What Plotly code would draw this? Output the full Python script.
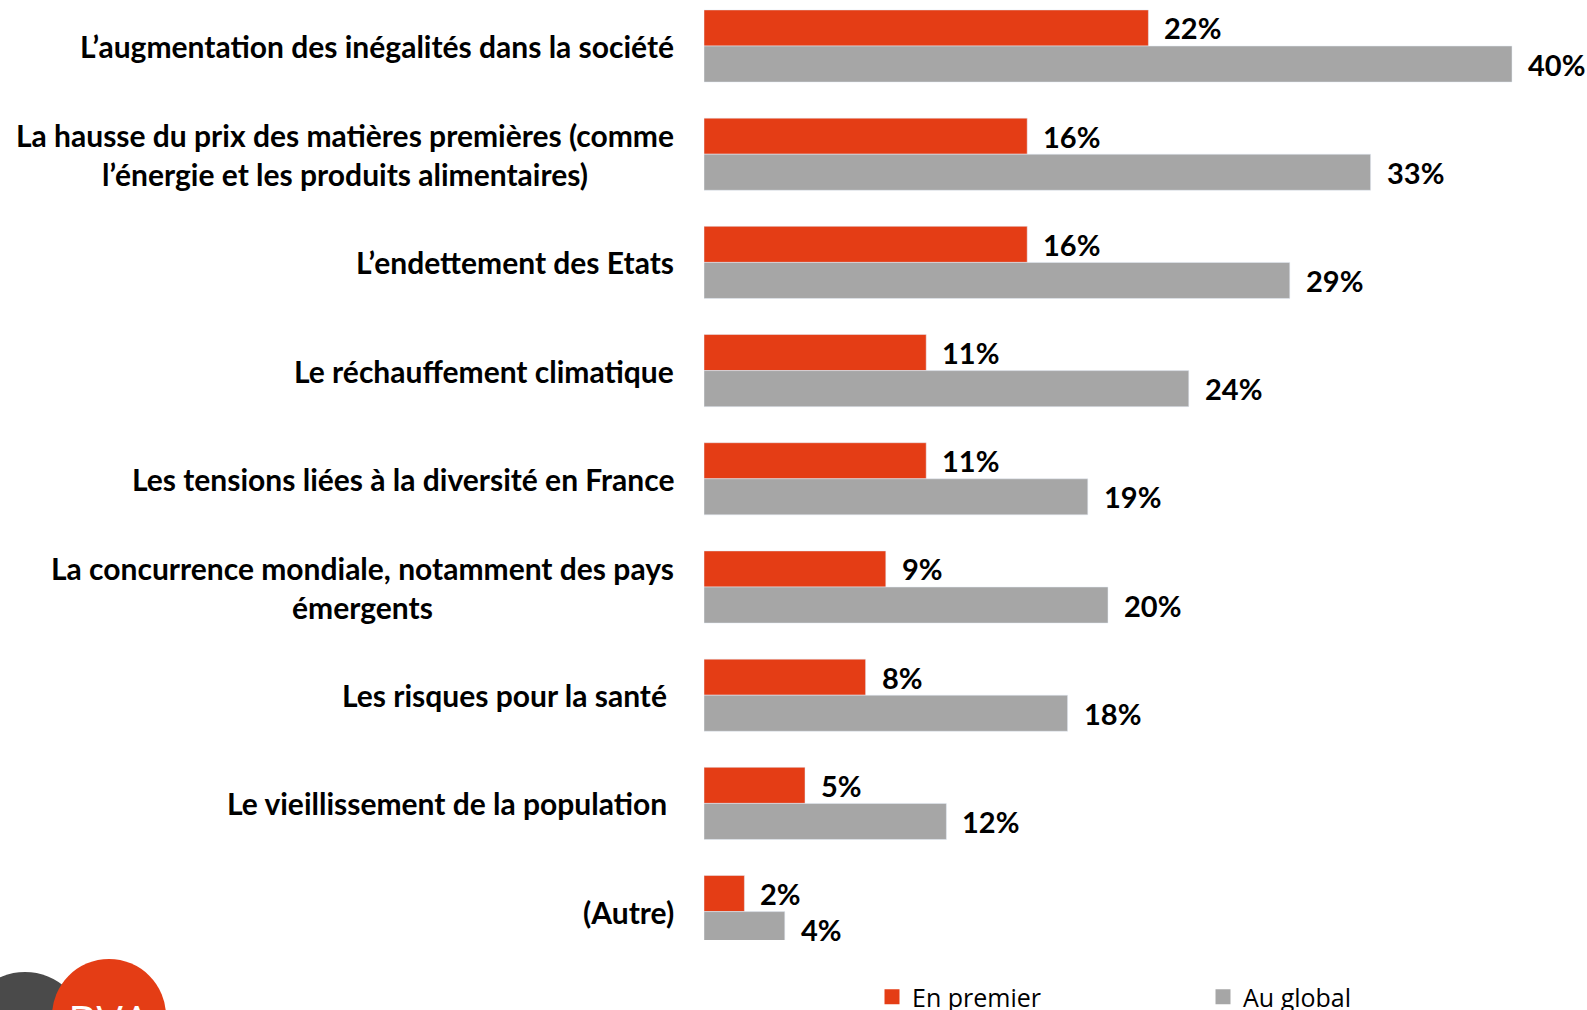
import plotly.graph_objects as go

# data
categories = [
    "L’augmentation des inégalités dans la société",
    "La hausse du prix des matières premières (comme<br>l’énergie et les produits alimentaires)",
    "L’endettement des Etats",
    "Le réchauffement climatique",
    "Les tensions liées à la diversité en France",
    "La concurrence mondiale, notamment des pays<br>émergents",
    "Les risques pour la santé ",
    "Le vieillissement de la population ",
    "(Autre)",
]
series_names = ["En premier", "Au global"]
en_premier = [22, 16, 16, 11, 11, 9, 8, 5, 2]
au_global = [40, 33, 29, 24, 19, 20, 18, 12, 4]

RED = "#E43D15"
GREY = "#A6A6A6"
FONT = "Lato"

W, H = 1587, 1010
L, T, B = 704, 0, 70

fig = go.Figure()
for name, vals, col in zip(series_names, [en_premier, au_global], [RED, GREY]):
    fig.add_trace(go.Bar(y=categories, x=vals, orientation="h", name=name,
                         marker=dict(color=col), hoverinfo="x+name", showlegend=False))
    # legend-only entry with a bigger square swatch
    fig.add_trace(go.Scatter(x=[None], y=[None], mode="markers", name=name,
                             marker=dict(symbol="square", size=15, color=col)))

annotations = []
# category labels, centred lines, right anchored
for i, c in enumerate(categories):
    annotations.append(dict(x=0, xref="paper", y=i, yref="y", text=f"<b>{c}</b>",
                            xanchor="right", yanchor="middle", align="center",
                            xshift=-28, showarrow=False,
                            font=dict(family=FONT, size=30, color="#000")))
# value labels
for i, (a, b) in enumerate(zip(en_premier, au_global)):
    annotations.append(dict(x=a, y=i - 1 / 6, text=f"<b>{a}%</b>", xanchor="left",
                            xshift=14, showarrow=False,
                            font=dict(family=FONT, size=29, color="#000")))
    annotations.append(dict(x=b, y=i + 1 / 6, text=f"<b>{b}%</b>", xanchor="left",
                            xshift=14, showarrow=False,
                            font=dict(family=FONT, size=29, color="#000")))

# logo (bottom-left, partly cut off) - page pixel coords
pw, ph = W - L, H - T - B
def px(x): return (x - L) / pw
def py(y): return (ph - (y - T)) / ph
shapes = [
    dict(type="circle", xref="paper", yref="paper", x0=px(-35), x1=px(85),
         y0=py(1090), y1=py(972), fillcolor="#4a4a4a", line=dict(width=0), layer="above"),
    dict(type="circle", xref="paper", yref="paper", x0=px(52), x1=px(166),
         y0=py(1073), y1=py(959), fillcolor=RED, line=dict(width=0), layer="above"),
]
annotations.append(dict(x=px(109), y=py(1020), xref="paper", yref="paper", text="BVA",
                        showarrow=False, font=dict(family="Open Sans", size=44, color="white"),
                        xanchor="center", yanchor="middle"))

unit = 108.2
top = -(46 - T) / unit
fig.update_layout(
    width=W, height=H,
    barmode="group", bargap=1 / 3, bargroupgap=0,
    plot_bgcolor="white", paper_bgcolor="white",
    margin=dict(l=L, r=0, t=T, b=B, autoexpand=False),
    xaxis=dict(range=[0, pw / 20.2], visible=False, fixedrange=True),
    yaxis=dict(range=[top + ph / unit, top], showticklabels=False,
               showgrid=False, zeroline=False, ticks="", type="category"),
    showlegend=True,
    legend=dict(orientation="h", x=px(872), xanchor="left", y=py(997), yanchor="middle",
                entrywidth=286, entrywidthmode="pixels", traceorder="normal",
                font=dict(family="Open Sans", size=25, color="#000"),
                bgcolor="rgba(0,0,0,0)"),
    annotations=annotations,
    shapes=shapes,
)

fig.write_html("out.html", config={"displayModeBar": False},
               post_script="document.body.style.margin='0';document.body.style.overflow='hidden';")
